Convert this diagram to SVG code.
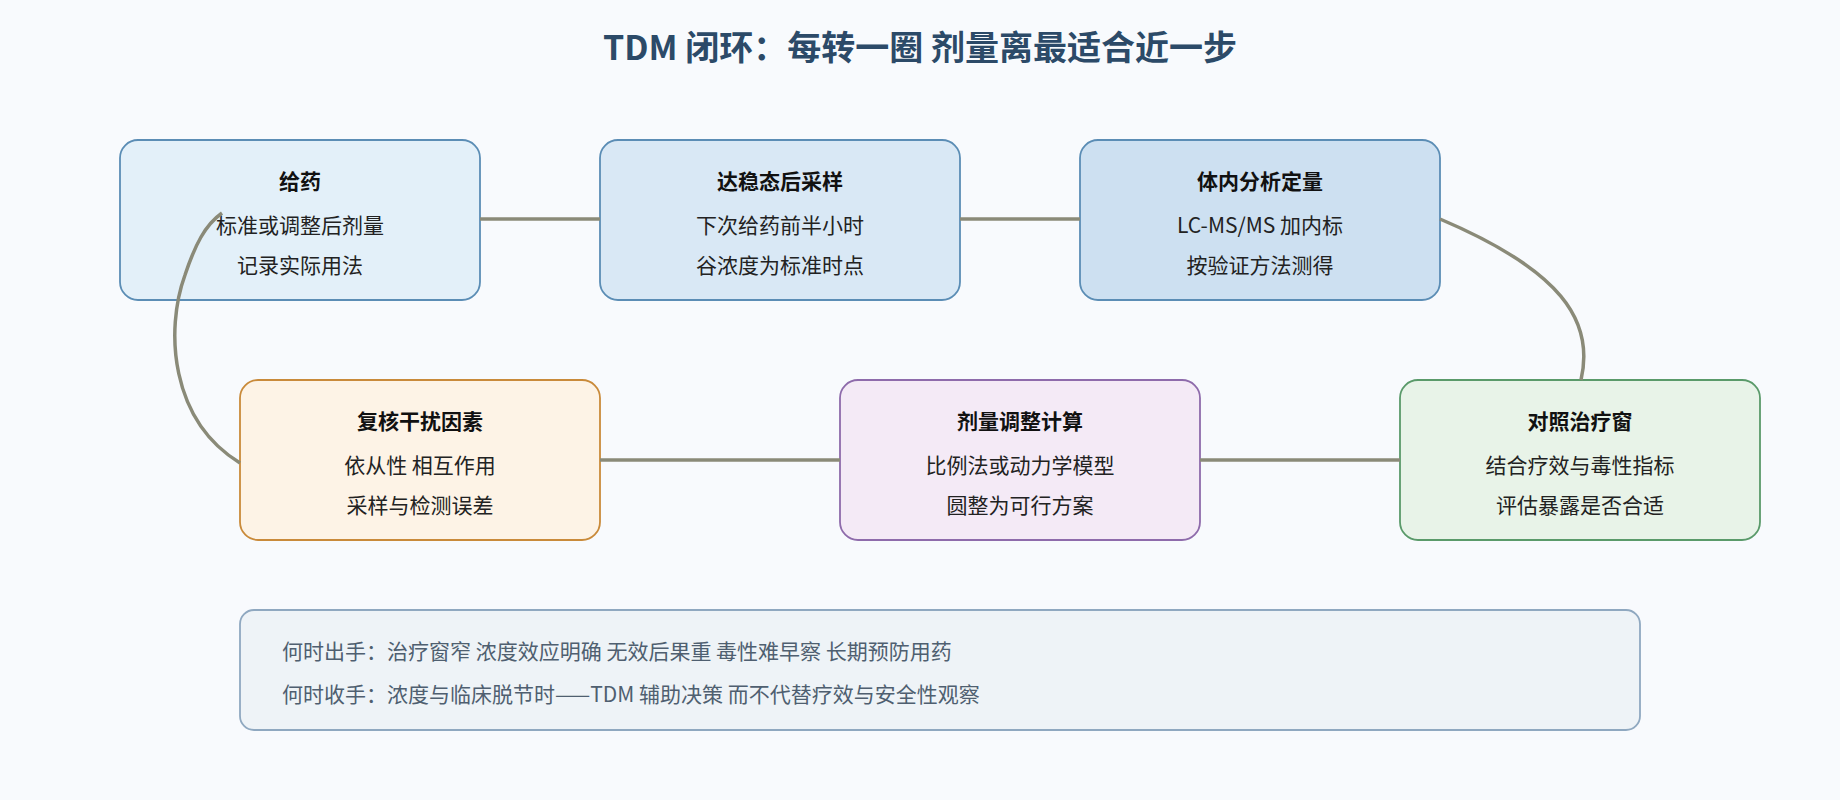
<svg xmlns="http://www.w3.org/2000/svg" width="1840" height="800" viewBox="0 0 1840 800">
<style>
text{font-family:"Noto Sans CJK SC","Noto Sans",sans-serif;}
.t{font-size:21px;font-weight:bold;fill:#111;text-anchor:middle}
.l{font-size:21px;fill:#222;text-anchor:middle}
.n{stroke-width:1.8}
.c{fill:none;stroke:#8a8a78;stroke-width:3.5}
.b{font-size:21px;fill:#4f5f70}
</style>
<rect width="1840" height="800" fill="#f8fafd"/>
<text x="920" y="60" text-anchor="middle" style="font-size:34px;font-weight:bold;fill:#2c4a68">TDM 闭环：每转一圈 剂量离最适合近一步</text>
<g id="n1"><rect class="n" x="120" y="140" width="360" height="160" rx="18" fill="#e3f0f9" stroke="#5b8db5"/>
<text class="t" x="300" y="189">给药</text><text class="l" x="300" y="233">标准或调整后剂量</text><text class="l" x="300" y="273">记录实际用法</text></g>
<g id="n2"><rect class="n" x="600" y="140" width="360" height="160" rx="18" fill="#d9e8f5" stroke="#5b8db5"/>
<text class="t" x="780" y="189">达稳态后采样</text><text class="l" x="780" y="233">下次给药前半小时</text><text class="l" x="780" y="273">谷浓度为标准时点</text></g>
<g id="n3"><rect class="n" x="1080" y="140" width="360" height="160" rx="18" fill="#cde0f1" stroke="#5b8db5"/>
<text class="t" x="1260" y="189">体内分析定量</text><text class="l" x="1260" y="233">LC-MS/MS 加内标</text><text class="l" x="1260" y="273">按验证方法测得</text></g>
<g id="n4"><rect class="n" x="240" y="380" width="360" height="160" rx="18" fill="#fdf3e6" stroke="#c98a3a"/>
<text class="t" x="420" y="429">复核干扰因素</text><text class="l" x="420" y="473">依从性 相互作用</text><text class="l" x="420" y="513">采样与检测误差</text></g>
<g id="n5"><rect class="n" x="840" y="380" width="360" height="160" rx="18" fill="#f4eaf6" stroke="#8e6bab"/>
<text class="t" x="1020" y="429">剂量调整计算</text><text class="l" x="1020" y="473">比例法或动力学模型</text><text class="l" x="1020" y="513">圆整为可行方案</text></g>
<g id="n6"><rect class="n" x="1400" y="380" width="360" height="160" rx="18" fill="#e8f3e8" stroke="#5a9a6a"/>
<text class="t" x="1580" y="429">对照治疗窗</text><text class="l" x="1580" y="473">结合疗效与毒性指标</text><text class="l" x="1580" y="513">评估暴露是否合适</text></g>
<g id="connectors">
<path class="c" d="M480 219H600M960 219H1080"/>
<path class="c" d="M1440 219C1560 270 1595 320 1581 380"/>
<path class="c" d="M1400 460H1200M840 460H600"/>
<path class="c" d="M240 463C170 420 165 330 185 275C195 245 205 225 222 213"/>
</g>
<g id="note"><rect x="240" y="610" width="1400" height="120" rx="14" fill="#eef3f7" stroke="#8fa8c0" stroke-width="1.8"/>
<text class="b" x="282" y="659">何时出手：治疗窗窄 浓度效应明确 无效后果重 毒性难早察 长期预防用药</text>
<text class="b" x="282" y="702">何时收手：浓度与临床脱节时——TDM 辅助决策 而不代替疗效与安全性观察</text></g>
</svg>
